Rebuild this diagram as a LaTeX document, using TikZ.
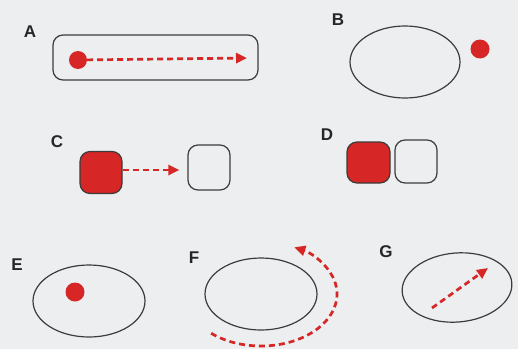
\documentclass[tikz,border=0pt]{standalone}
\usepackage{fontspec}
\setsansfont{Liberation Sans}
\usetikzlibrary{arrows.meta,shapes.geometric}
\definecolor{dotred}{RGB}{214,38,38}
\definecolor{outline}{RGB}{60,60,60}
\definecolor{paper}{RGB}{236,238,240}
\tikzset{
    lbl/.style={font=\sffamily\bfseries\fontsize{17}{19}\selectfont,text=black!85},
    rim/.style={draw=outline,line width=1.2pt},
    dot/.style={circle,fill=dotred,minimum size=19pt,inner sep=0pt},
    box/.style={rim,rounded corners=10pt,minimum width=42pt,minimum height=42pt,inner sep=0pt},
    oval/.style={rim,ellipse,inner sep=0pt},
    move/.style={dotred,line width=2.7pt,dash pattern=on 6pt off 4pt,-{Triangle[length=11pt,width=10pt]}}
}
\begin{document}
\begin{tikzpicture}[x=1pt,y=1pt]
    \fill[paper] (0,0) rectangle (518,349);
    \useasboundingbox (0,0) rectangle (518,349);

    \node[lbl] (labA) at (30,317) {A};
    \node[rim,rounded corners=10pt,minimum width=205pt,minimum height=45pt] (tubeA) at (155.5,291.5) {};
    \node[dot,minimum size=18pt] (dotA) at (78,289) {};
    \coordinate (tipA) at (247,291);
    \draw[move] (dotA) -- (tipA);

    \node[lbl] (labB) at (338,329) {B};
    \node[oval,minimum width=110pt,minimum height=72pt] (ovalB) at (405,287) {};
    \node[dot] (dotB) at (480,300) {};

    \node[lbl] (labC) at (57,207) {C};
    \node[box,fill=dotred] (redC) at (101,176.5) {};
    \node[box,minimum height=45pt] (emptyC) at (209,181.5) {};
    \draw[move] (redC.east |- 0,179) -- ([xshift=-8pt]emptyC.west |- 0,179);

    \node[lbl] (labD) at (327,214) {D};
    \node[box,fill=dotred,minimum width=43pt,minimum height=41pt] (redD) at (368.5,186.5) {};
    \node[box,minimum height=43pt] (emptyD) at (416,187.5) {};

    \node[lbl] (labE) at (17,84) {E};
    \node[oval,minimum width=112pt,minimum height=72pt] (ovalE) at (89,48) {};
    \node[dot] (dotE) at (75,57) {};

    \node[lbl] (labF) at (194,91) {F};
    \node[oval,minimum width=112pt,minimum height=72pt] (ovalF) at (261,55) {};
    \draw[move] ([shift={(-131:76 and 52)}]ovalF.center) arc[start angle=-131,end angle=64,x radius=76,y radius=52];

    \node[lbl] (labG) at (386,97) {G};
    \node[oval,minimum width=110pt,minimum height=69pt,rotate=5] (ovalG) at (457,61.5) {};
    \coordinate (tailG) at (432,41);
    \coordinate (tipG) at (488,81);
    \draw[move] (tailG) -- (tipG);
\end{tikzpicture}
\end{document}
